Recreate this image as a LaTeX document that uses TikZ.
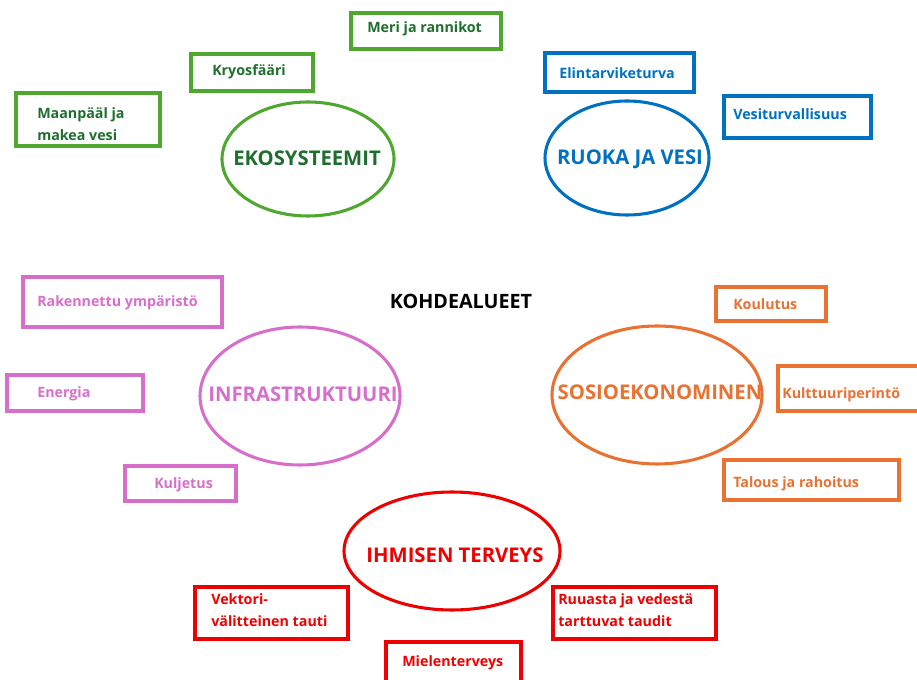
\documentclass[tikz,border=0pt]{standalone}
\usepackage{fontspec}
\setmainfont{Open Sans}
\definecolor{ekoline}{HTML}{4EA72E}
\definecolor{ekotext}{HTML}{1E6E2E}
\definecolor{ruoka}{HTML}{0070C0}
\definecolor{infra}{HTML}{D86ECC}
\definecolor{sosio}{HTML}{E97132}
\definecolor{terveys}{HTML}{EE0000}
\tikzset{
    box/.style={line width=2.6pt},
    oval/.style={line width=2.3pt},
    item/.style={anchor=west, inner sep=0pt, align=left,
        font=\bfseries\fontsize{10.7}{16.5}\selectfont},
    area/.style={inner sep=0pt, font=\bfseries\fontsize{15.2}{18}\selectfont},
}
\begin{document}
\begin{tikzpicture}[x=0.75pt, y=-0.75pt]
    \useasboundingbox (0,0) rectangle (917,680);
    \clip (0,0) rectangle (917,680);

    % Title
    \node[inner sep=0pt, font=\bfseries\fontsize{14.8}{16}\selectfont] (kohde) at (461,301) {KOHDEALUEET};

    % Ekosysteemit
    \draw[oval, ekoline] (308,159) ellipse [x radius=86, y radius=57];
    \node[area, ekotext] (eko) at (307,158) {EKOSYSTEEMIT};
    \draw[box, ekoline] (351,13) rectangle (501,49);
    \node[item, ekotext] (meri) at (367,29) {Meri ja rannikot};
    \draw[box, ekoline] (191,54) rectangle (313,91);
    \node[item, ekotext] (kryo) at (212,72) {Kryosfääri};
    \draw[box, ekoline] (16,93) rectangle (160,146);
    \node[item, ekotext] (maa) at (37,124) {Maanpääl ja\\makea vesi};

    % Ruoka ja vesi
    \draw[oval, ruoka] (627,158) ellipse [x radius=82, y radius=57];
    \node[area, ruoka] (ruo) at (630,159) {RUOKA JA VESI};
    \draw[box, ruoka] (545,53) rectangle (694,92);
    \node[item, ruoka] (elin) at (559,73) {Elintarviketurva};
    \draw[box, ruoka] (724,96) rectangle (871,138);
    \node[item, ruoka] (vesi) at (733,114) {Vesiturvallisuus};

    % Infrastruktuuri
    \draw[oval, infra] (300,396) ellipse [x radius=100, y radius=69];
    \node[area, infra] (inf) at (303,394) {INFRASTRUKTUURI};
    \draw[box, infra] (23,277) rectangle (222,327);
    \node[item, infra] (rak) at (37,303) {Rakennettu ympäristö};
    \draw[box, infra] (7,375) rectangle (143,411);
    \node[item, infra] (ene) at (37,394) {Energia};
    \draw[box, infra] (125,466) rectangle (236,501);
    \node[item, infra] (kul) at (154,485) {Kuljetus};

    % Sosioekonominen
    \draw[oval, sosio] (657,395) ellipse [x radius=105, y radius=69];
    \node[area, sosio] (sos) at (660,392) {SOSIOEKONOMINEN};
    \draw[box, sosio] (716,287) rectangle (826,321);
    \node[item, sosio] (kou) at (733,304) {Koulutus};
    \draw[box, sosio] (778,366) rectangle (935,411);
    \node[item, sosio] (kult) at (782,395) {Kulttuuriperintö};
    \draw[box, sosio] (724,460) rectangle (899,500);
    \node[item, sosio] (tal) at (733,484) {Talous ja rahoitus};

    % Ihmisen terveys
    \draw[oval, terveys] (452,551) ellipse [x radius=108, y radius=59];
    \node[area, terveys] (ihm) at (455,555) {IHMISEN TERVEYS};
    \draw[box, terveys] (195,587) rectangle (348,639);
    \node[item, terveys] (vek) at (211,610) {Vektori-\\välitteinen tauti};
    \draw[box, terveys] (553,587) rectangle (716,639);
    \node[item, terveys] (ruu) at (558,610) {Ruuasta ja vedestä\\tarttuvat taudit};
    \draw[box, terveys] (386,642) rectangle (521,700);
    \node[item, terveys] (mie) at (402,663) {Mielenterveys};
\end{tikzpicture}
\end{document}
